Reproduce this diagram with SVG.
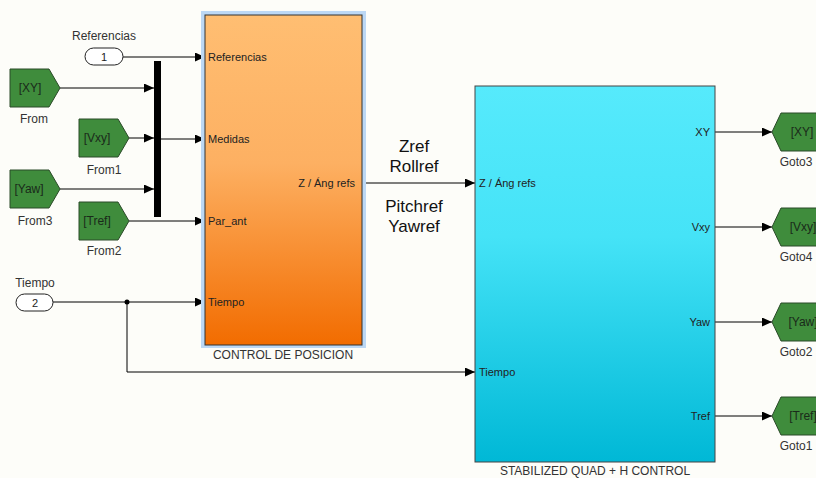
<svg xmlns="http://www.w3.org/2000/svg" width="816" height="478" viewBox="0 0 816 478">
<defs>
<linearGradient id="gOrange" x1="0" y1="0" x2="0" y2="1">
<stop offset="0" stop-color="#ffbe72"/>
<stop offset="0.45" stop-color="#fdb062"/>
<stop offset="1" stop-color="#f26c00"/>
</linearGradient>
<linearGradient id="gCyan" x1="0" y1="0" x2="0" y2="1">
<stop offset="0" stop-color="#56eafc"/>
<stop offset="0.4" stop-color="#45e3f7"/>
<stop offset="1" stop-color="#00b8d6"/>
</linearGradient>
<marker id="arr" markerWidth="11" markerHeight="10" refX="10" refY="4.5" orient="auto" markerUnits="userSpaceOnUse">
<path d="M0,0 L10,4.5 L0,9 Z" fill="#000"/>
</marker>
</defs>
<style>
text{font-family:"Liberation Sans",Arial,sans-serif;fill:#222}
.port{font-size:11px}
.lbl{font-size:12px;fill:#333}
.tag{font-size:12px;fill:#1a2a1a}
.big{font-size:17px;fill:#111;text-anchor:middle}
.green{fill:#3f8c3c;stroke:#2a4a28;stroke-width:1}
.wire{fill:none;stroke:#000;stroke-width:1}
.mid{text-anchor:middle}
.end{text-anchor:end}
</style>
<rect x="0" y="0" width="816" height="478" fill="#fdfdf9"/>

<g id="connectors">
<path class="wire" d="M123,57 H205" marker-end="url(#arr)"/>
<path class="wire" d="M60,88 H154" marker-end="url(#arr)"/>
<path class="wire" d="M129,138 H154" marker-end="url(#arr)"/>
<path class="wire" d="M60,189 H154" marker-end="url(#arr)"/>
<path class="wire" d="M161,139 H205" marker-end="url(#arr)"/>
<path class="wire" d="M129,221 H205" marker-end="url(#arr)"/>
<path class="wire" d="M53,302 H205" marker-end="url(#arr)"/>
<path class="wire" d="M127,302 V372 H475" marker-end="url(#arr)"/>
<circle cx="127" cy="302" r="2.5" fill="#000"/>
<path class="wire" d="M362,183 H475" marker-end="url(#arr)"/>
<path class="wire" d="M715,132 H772" marker-end="url(#arr)"/>
<path class="wire" d="M715,227 H772" marker-end="url(#arr)"/>
<path class="wire" d="M715,322 H772" marker-end="url(#arr)"/>
<path class="wire" d="M715,416 H772" marker-end="url(#arr)"/>
</g>

<g id="inport1">
<rect x="85" y="48" width="38" height="17" rx="8.5" fill="#fff" stroke="#222" stroke-width="1"/>
<text class="port mid" x="104" y="61">1</text>
<text class="lbl mid" x="104" y="40">Referencias</text>
</g>

<g id="inport2">
<rect x="16" y="294" width="37" height="17" rx="8.5" fill="#fff" stroke="#222" stroke-width="1"/>
<text class="port mid" x="35" y="307">2</text>
<text class="lbl mid" x="35" y="287">Tiempo</text>
</g>

<g id="from">
<polygon class="green" points="10,69 49,69 60,88 49,107 10,107"/>
<text class="tag mid" x="30" y="92">[XY]</text>
<text class="lbl mid" x="34" y="123">From</text>
</g>
<g id="from1">
<polygon class="green" points="79,119 118,119 129,138 118,157 79,157"/>
<text class="tag mid" x="97" y="142">[Vxy]</text>
<text class="lbl mid" x="104" y="174">From1</text>
</g>
<g id="from3">
<polygon class="green" points="10,170 49,170 60,189 49,208 10,208"/>
<text class="tag mid" x="29" y="193">[Yaw]</text>
<text class="lbl mid" x="35" y="225">From3</text>
</g>
<g id="from2">
<polygon class="green" points="79,202 118,202 129,221 118,240 79,240"/>
<text class="tag mid" x="97" y="225">[Tref]</text>
<text class="lbl mid" x="104" y="255">From2</text>
</g>

<g id="mux">
<rect x="154" y="61" width="7" height="156" fill="#000"/>
</g>

<g id="control_posicion">
<rect x="201" y="11" width="165" height="337" fill="#bcd8f5"/>
<rect x="205" y="15" width="157" height="330" fill="url(#gOrange)" stroke="#333" stroke-width="1"/>
<text class="port" x="208" y="61">Referencias</text>
<text class="port" x="208" y="143">Medidas</text>
<text class="port end" x="355" y="187">Z / Áng refs</text>
<text class="port" x="208" y="225">Par_ant</text>
<text class="port" x="208" y="306">Tiempo</text>
<text class="lbl mid" x="283" y="359">CONTROL DE POSICION</text>
</g>

<g id="notes">
<text class="big" x="414" y="152">Zref</text>
<text class="big" x="414" y="172">Rollref</text>
<text class="big" x="414" y="212">Pitchref</text>
<text class="big" x="414" y="232">Yawref</text>
</g>

<g id="stabilized">
<rect x="475" y="86" width="240" height="376" fill="url(#gCyan)" stroke="#444" stroke-width="1"/>
<text class="port" x="479" y="187">Z / Áng refs</text>
<text class="port" x="479" y="376">Tiempo</text>
<text class="port end" x="710" y="136">XY</text>
<text class="port end" x="710" y="231">Vxy</text>
<text class="port end" x="710" y="326">Yaw</text>
<text class="port end" x="710" y="420">Tref</text>
<text class="lbl mid" x="595" y="475">STABILIZED QUAD + H CONTROL</text>
</g>

<g id="goto3">
<polygon class="green" points="772,132 781,113 840,113 849,132 840,151 781,151"/>
<text class="tag mid" x="802" y="136">[XY]</text>
<text class="lbl mid" x="796" y="166">Goto3</text>
</g>
<g id="goto4">
<polygon class="green" points="772,227 781,208 840,208 849,227 840,246 781,246"/>
<text class="tag mid" x="803" y="231">[Vxy]</text>
<text class="lbl mid" x="796" y="261">Goto4</text>
</g>
<g id="goto2">
<polygon class="green" points="772,322 781,303 840,303 849,322 840,341 781,341"/>
<text class="tag mid" x="803" y="326">[Yaw]</text>
<text class="lbl mid" x="796" y="356">Goto2</text>
</g>
<g id="goto1">
<polygon class="green" points="772,416 781,397 840,397 849,416 840,435 781,435"/>
<text class="tag mid" x="803" y="420">[Tref]</text>
<text class="lbl mid" x="796" y="450">Goto1</text>
</g>
</svg>
